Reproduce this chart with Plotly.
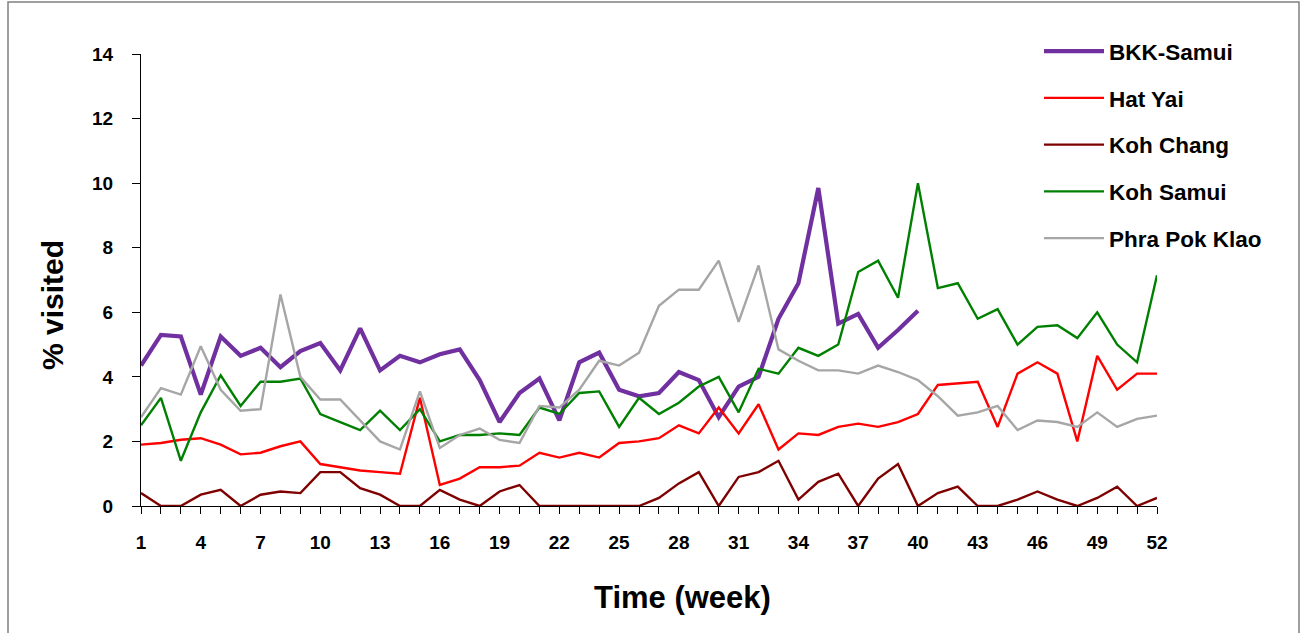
import plotly.graph_objects as go

weeks = list(range(1, 53))

bkk_samui = [4.35, 5.3, 5.25, 3.45, 5.25, 4.65, 4.9, 4.3, 4.8, 5.05,
             4.2, 5.5, 4.2, 4.65, 4.45, 4.7, 4.85, 3.9, 2.6, 3.5,
             3.95, 2.65, 4.45, 4.75, 3.6, 3.4, 3.5, 4.15, 3.9, 2.75,
             3.7, 4.0, 5.8, 6.9, 9.85, 5.65, 5.95, 4.9, 5.45, 6.05]

hat_yai = [1.9, 1.95, 2.05, 2.1, 1.9, 1.6, 1.65, 1.85, 2.0, 1.3,
           1.2, 1.1, 1.05, 1.0, 3.35, 0.65, 0.85, 1.2, 1.2, 1.25,
           1.65, 1.5, 1.65, 1.5, 1.95, 2.0, 2.1, 2.5, 2.25, 3.05,
           2.25, 3.15, 1.75, 2.25, 2.2, 2.45, 2.55, 2.45, 2.6, 2.85,
           3.75, 3.8, 3.85, 2.45, 4.1, 4.45, 4.1, 2.0, 4.65, 3.6,
           4.1, 4.1]

koh_chang = [0.4, 0.0, 0.0, 0.35, 0.5, 0.0, 0.35, 0.45, 0.4, 1.05,
             1.05, 0.55, 0.35, 0.0, 0.0, 0.5, 0.2, 0.0, 0.45, 0.65,
             0.0, 0.0, 0.0, 0.0, 0.0, 0.0, 0.25, 0.7, 1.05, 0.0,
             0.9, 1.05, 1.4, 0.2, 0.75, 1.0, 0.0, 0.85, 1.3, 0.0,
             0.4, 0.6, 0.0, 0.0, 0.2, 0.45, 0.2, 0.0, 0.25, 0.6,
             0.0, 0.25]

koh_samui = [2.5, 3.35, 1.4, 2.9, 4.05, 3.1, 3.85, 3.85, 3.95, 2.85,
             2.6, 2.35, 2.95, 2.35, 3.0, 2.0, 2.2, 2.2, 2.25, 2.2,
             3.05, 2.85, 3.5, 3.55, 2.45, 3.35, 2.85, 3.2, 3.7, 4.0,
             2.9, 4.25, 4.1, 4.9, 4.65, 5.0, 7.25, 7.6, 6.45, 10.0,
             6.75, 6.9, 5.8, 6.1, 5.0, 5.55, 5.6, 5.2, 6.0, 5.0,
             4.45, 7.15]

phra_pok_klao = [2.75, 3.65, 3.45, 4.95, 3.6, 2.95, 3.0, 6.55, 4.0, 3.3,
                 3.3, 2.65, 2.0, 1.75, 3.55, 1.8, 2.2, 2.4, 2.05, 1.95,
                 3.1, 3.05, 3.6, 4.5, 4.35, 4.75, 6.2, 6.7, 6.7, 7.6,
                 5.7, 7.45, 4.85, 4.5, 4.2, 4.2, 4.1, 4.35, 4.15, 3.9,
                 3.4, 2.8, 2.9, 3.1, 2.35, 2.65, 2.6, 2.45, 2.9, 2.45,
                 2.7, 2.8]

series = [
    ("BKK-Samui", bkk_samui, "#7030A0", 4.2),
    ("Hat Yai", hat_yai, "#FF0000", 2.4),
    ("Koh Chang", koh_chang, "#7F0000", 2.4),
    ("Koh Samui", koh_samui, "#008000", 2.4),
    ("Phra Pok Klao", phra_pok_klao, "#A6A6A6", 2.4),
]

x_tick_vals = list(range(1, 53, 3))
x_title = "Time (week)"
y_title = "% visited"

fig = go.Figure()
for name, vals, color, width in series:
    fig.add_trace(go.Scatter(
        x=weeks[:len(vals)], y=vals, mode="lines", name=name,
        legendgroup=name,
        line=dict(color=color, width=width),
    ))

ff = "Liberation Sans, Arial, sans-serif"

L, R, T, B = 141, 1157, 54, 506
pw, ph = R - L, B - T

fig.update_layout(
    width=1306, height=633,
    margin=dict(l=L, r=1306 - R, t=T, b=633 - B),
    paper_bgcolor="white", plot_bgcolor="white",
    font=dict(family=ff, color="black"),
    showlegend=True,
    legend=dict(
        x=(1039 - L) / pw, y=(B - 30) / ph, xanchor="left", yanchor="top",
        traceorder="grouped", tracegroupgap=14.5, itemwidth=60,
        font=dict(size=22.5, family=ff, color="black", weight="bold"),
        bgcolor="rgba(0,0,0,0)",
    ),
    xaxis=dict(
        range=[1, 52], tickmode="array",
        tickvals=weeks, ticktext=[str(w) if w in x_tick_vals else "" for w in weeks],
        ticks="outside", ticklen=7, tickcolor="black", tickwidth=1,
        ticklabelstandoff=12,
        showline=True, linecolor="black", linewidth=1,
        showgrid=False, zeroline=False,
        tickfont=dict(size=19, family=ff, color="black", weight="bold"),
    ),
    yaxis=dict(
        range=[0, 14], tickmode="array", tickvals=list(range(0, 15, 2)),
        ticks="outside", ticklen=8, tickcolor="black", tickwidth=1,
        ticklabelstandoff=15,
        showline=True, linecolor="black", linewidth=1,
        showgrid=False, zeroline=False,
        tickfont=dict(size=19, family=ff, color="black", weight="bold"),
    ),
    annotations=[
        dict(text=x_title, xref="paper", yref="paper",
             x=(682 - L) / pw, y=(B - 597) / ph, xanchor="center", yanchor="middle",
             showarrow=False, font=dict(size=31, family=ff, color="black", weight="bold")),
        dict(text=y_title, xref="paper", yref="paper", textangle=-90,
             x=(52 - L) / pw, y=(B - 305) / ph, xanchor="center", yanchor="middle",
             showarrow=False, font=dict(size=30, family=ff, color="black", weight="bold")),
    ],
    shapes=[dict(type="rect", xref="paper", yref="paper",
                 x0=(8 - L) / pw, x1=(1299 - L) / pw,
                 y0=(B - 645) / ph, y1=(B - 2) / ph,
                 line=dict(color="#808080", width=1.5), layer="below")],
)

fig.write_html("out.html", config={"displayModeBar": False},
               post_script="document.body.style.margin='0';")
